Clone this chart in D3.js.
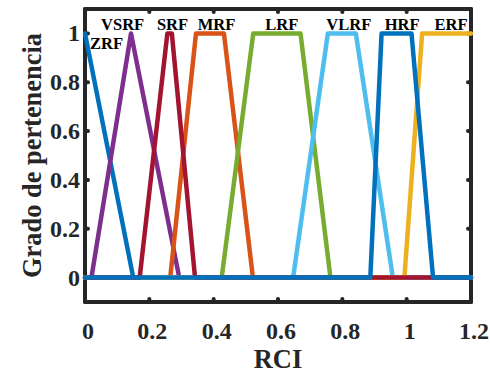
<!DOCTYPE html>
<html>
<head>
<meta charset="utf-8">
<script src="https://cdn.jsdelivr.net/npm/d3@7"></script>
<style>
    body { margin: 0; background: #fff; }
    text { font-family: "Liberation Serif", "Times New Roman", serif; font-weight: bold; }
</style>
</head>
<body>
<div id="chart"></div>
<script>
const width = 490;
const height = 377;

// membership functions: name, breakpoints [a, b, c, d] on RCI
const names = ["ZRF", "VSRF", "MRF", "LRF", "VLRF", "ERF", "SRF", "HRF"];
const breaks = [
    [0, 0, 0, 0.15],
    [0.02, 0.143, 0.143, 0.293],
    [0.265, 0.345, 0.432, 0.522],
    [0.425, 0.523, 0.67, 0.763],
    [0.647, 0.755, 0.842, 0.957],
    [0.993, 1.048, 1.2, 1.2],
    [0.17, 0.256, 0.27, 0.342],
    [0.887, 0.922, 1.015, 1.082]
];
const colors = ["#0072BD", "#7E2F8E", "#D95319", "#77AC30", "#4DBEEE", "#EDB120", "#A2142F", "#0072BD"];

// text labels placed in data coordinates
const labelNames = ["ZRF", "VSRF", "SRF", "MRF", "LRF", "VLRF", "HRF", "ERF"];
const labelX = [0.067, 0.117, 0.272, 0.409, 0.612, 0.820, 0.986, 1.138];
const labelY = [0.935, 1.013, 1.013, 1.013, 1.013, 1.013, 1.013, 1.013];

const xTicks = [0, 0.2, 0.4, 0.6, 0.8, 1, 1.2];
const yTicks = [0, 0.2, 0.4, 0.6, 0.8, 1];

const x = d3.scaleLinear().domain([0, 1.2]).range([85, 471]);
const y = d3.scaleLinear().domain([-0.1, 1.1]).range([302, 9]);

const svg = d3.select("#chart")
    .append("svg")
    .attr("width", width)
    .attr("height", height);

const axisColor = "#262626";

// box
svg.append("rect")
    .attr("x", x(0))
    .attr("y", y(1.1))
    .attr("width", x(1.2) - x(0))
    .attr("height", y(-0.1) - y(1.1))
    .attr("fill", "none")
    .attr("stroke", axisColor)
    .attr("stroke-width", 4)
    .attr("stroke-linejoin", "round");

// inward ticks on all four sides
const tickLen = 3;
xTicks.forEach(t => {
    [[y(-0.1), -1], [y(1.1), 1]].forEach(([yy, dir]) => {
        svg.append("line")
            .attr("x1", x(t)).attr("x2", x(t))
            .attr("y1", yy).attr("y2", yy + dir * tickLen)
            .attr("stroke", axisColor)
            .attr("stroke-width", 4)
            .attr("stroke-linecap", "round");
    });
});
yTicks.forEach(t => {
    [[x(0), 1], [x(1.2), -1]].forEach(([xx, dir]) => {
        svg.append("line")
            .attr("x1", xx).attr("x2", xx + dir * tickLen)
            .attr("y1", y(t)).attr("y2", y(t))
            .attr("stroke", axisColor)
            .attr("stroke-width", 4)
            .attr("stroke-linecap", "round");
    });
});

// tick labels
svg.selectAll(".xlab")
    .data(xTicks)
    .enter().append("text")
    .attr("x", d => x(d) + 3)
    .attr("y", 339)
    .attr("text-anchor", "middle")
    .attr("font-size", "24px")
    .attr("fill", axisColor)
    .text(d => d3.format("~g")(d));

svg.selectAll(".ylab")
    .data(yTicks)
    .enter().append("text")
    .attr("x", 80)
    .attr("y", d => y(d))
    .attr("dy", "0.33em")
    .attr("text-anchor", "end")
    .attr("font-size", "24px")
    .attr("fill", axisColor)
    .text(d => d3.format("~g")(d));

// axis titles
svg.append("text")
    .attr("x", (x(0) + x(1.2)) / 2)
    .attr("y", 368)
    .attr("text-anchor", "middle")
    .attr("font-size", "26.4px")
    .attr("fill", axisColor)
    .text("RCI");

svg.append("text")
    .attr("transform", `translate(41, ${(y(-0.1) + y(1.1)) / 2}) rotate(-90)`)
    .attr("text-anchor", "middle")
    .attr("font-size", "26.4px")
    .attr("fill", axisColor)
    .text("Grado de pertenencia");

// membership function lines over the whole RCI range
const line = d3.line()
    .x(d => x(d[0]))
    .y(d => y(d[1]));

function points(b) {
    const [a, p, q, d] = b;
    const pts = [];
    if (a > 0) pts.push([0, 0]);
    pts.push([a, a === p ? 1 : 0]);
    if (p !== a) pts.push([p, 1]);
    if (q !== p) pts.push([q, 1]);
    if (d !== q) pts.push([d, 0]);
    if (d < 1.2) pts.push([1.2, 0]);
    return pts;
}

svg.selectAll(".mf")
    .data(breaks)
    .enter().append("path")
    .attr("class", "mf")
    .attr("fill", "none")
    .attr("stroke", (d, i) => colors[i])
    .attr("stroke-width", 4.5)
    .attr("stroke-linejoin", "round")
    .attr("stroke-linecap", "round")
    .attr("d", d => line(points(d)));

svg.selectAll(".mflab")
    .data(labelNames)
    .enter().append("text")
    .attr("x", (d, i) => x(labelX[i]))
    .attr("y", (d, i) => y(labelY[i]))
    .attr("text-anchor", "middle")
    .attr("font-size", "16.5px")
    .attr("fill", "#000")
    .text(d => d);
</script>
</body>
</html>
